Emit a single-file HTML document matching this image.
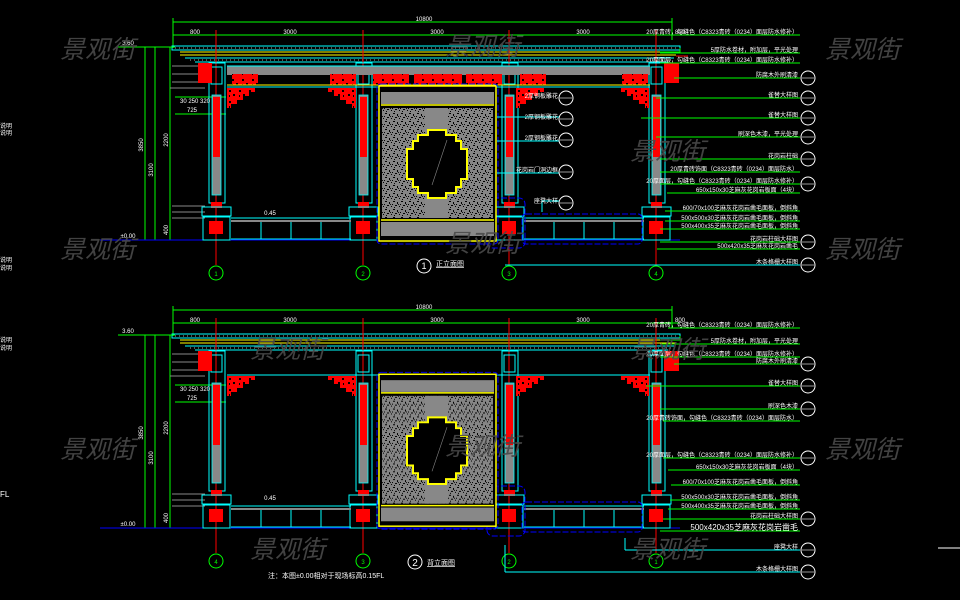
<!DOCTYPE html>
<html><head><meta charset="utf-8"><style>
html,body{margin:0;padding:0;background:#000;}
svg{display:block}
text{font-family:"Liberation Sans","Noto Sans CJK SC",sans-serif;}
.w{fill:#fff;font-size:6px}
.wm{fill:#4a4a4a;font-size:25px;font-style:italic;font-family:"Noto Sans CJK SC","WenQuanYi Zen Hei",sans-serif;opacity:.9}
</style></head><body>
<svg width="960" height="600" viewBox="0 0 960 600" xmlns="http://www.w3.org/2000/svg">
<defs>
<pattern id="tex" width="8" height="8" patternUnits="userSpaceOnUse">
<rect width="8" height="8" fill="#858585"/>
<rect x="1" y="1" width="2" height="1" fill="#000"/><rect x="5" y="2" width="1" height="2" fill="#000"/>
<rect x="3" y="5" width="2" height="1" fill="#000"/><rect x="7" y="6" width="1" height="1" fill="#000"/>
<rect x="2" y="7" width="1" height="1" fill="#000"/><rect x="6" y="4" width="1" height="1" fill="#111"/>
<rect x="0" y="4" width="1" height="1" fill="#000"/>
</pattern>
<pattern id="lat" width="10" height="11" patternUnits="userSpaceOnUse">
<rect width="10" height="11" fill="#f00"/>
<rect x="2" y="2" width="2" height="2" fill="#000"/><rect x="6" y="6" width="2" height="2" fill="#000"/>
<rect x="2" y="7" width="1" height="2" fill="#000"/>
</pattern>
<g id="col">
<line x1="0" y1="30" x2="0" y2="265" stroke="#f00" stroke-width="1"/>
<rect x="-7" y="63" width="16" height="140" fill="none" stroke="#0ff"/>
<rect x="-5" y="67" width="11" height="17" fill="none" stroke="#0ff"/>
<rect x="-4" y="95" width="9" height="100" fill="#888" stroke="#0ff" stroke-width=".8"/>
<rect x="-3" y="97" width="7" height="60" fill="#f00"/>
<rect x="-5" y="202" width="11" height="6" fill="#f00"/>
<rect x="-14" y="207" width="29" height="9" fill="none" stroke="#0ff"/>
<rect x="-13" y="217" width="27" height="23" fill="none" stroke="#0ff"/>
<rect x="-7" y="221" width="14" height="13" fill="#f00"/>
<circle cx="0" cy="273" r="7" fill="none" stroke="#0f0"/>
</g>
<g id="rail">
<line x1="0" y1="218" x2="120" y2="218" stroke="#0ff"/>
<rect x="0" y="220" width="120" height="2" fill="#888"/>
<line x1="0" y1="239" x2="120" y2="239" stroke="#0ff"/>
<line x1="30" y1="222" x2="30" y2="239" stroke="#0ff"/>
<line x1="60" y1="222" x2="60" y2="239" stroke="#0ff"/>
<line x1="90" y1="222" x2="90" y2="239" stroke="#0ff"/>
</g>
<g id="brL"><path d="M0 0h28v4h-6v4h-6v4h-6v4h-6v4h-4z" fill="url(#lat)"/></g>
<g id="door">
<rect x="379" y="86" width="117" height="155" fill="#000" stroke="#ff0" stroke-width="1.5"/>
<rect x="381" y="92" width="113" height="12" fill="#888"/>
<line x1="381" y1="105" x2="494" y2="105" stroke="#ff0" stroke-width="1.5"/>
<rect x="382" y="108" width="111" height="110" fill="url(#tex)"/>
<rect x="425" y="108" width="23" height="110" fill="#888"/>
<path d="M418 135h10v-5h18v5h10v6h5v8h6v30h-6v8h-5v6h-10v5h-18v-5h-10v-6h-5v-8h-6v-30h6v-8h5z" fill="#000" stroke="#ff0" stroke-width="2"/>
<line x1="432" y1="185" x2="447" y2="140" stroke="#888" stroke-width=".6"/>
<line x1="381" y1="220" x2="494" y2="220" stroke="#ff0" stroke-width="1.5"/>
<rect x="381" y="222" width="113" height="14" fill="#888"/>
<rect x="377" y="84" width="121" height="160" rx="4" fill="none" stroke="#00f" stroke-dasharray="6,2"/>
</g>
<g id="co"><circle r="7" fill="#000" stroke="#fff"/><line x1="-6" y1="0" x2="6" y2="0" stroke="#fff" stroke-width=".6"/></g>
<g id="elev">
<line x1="173" y1="22" x2="672" y2="22" stroke="#0f0"/>
<line x1="173" y1="35" x2="680" y2="35" stroke="#0f0"/>
<line x1="173" y1="18" x2="173" y2="48" stroke="#0f0"/>
<line x1="672" y1="18" x2="672" y2="40" stroke="#0f0"/>
<rect x="172" y="46" width="508" height="4" fill="none" stroke="#0ff"/>
<line x1="175" y1="48" x2="678" y2="48" stroke="#aaa" stroke-dasharray="1,3"/>
<line x1="180" y1="52" x2="676" y2="52" stroke="#ff0"/>
<line x1="180" y1="55" x2="676" y2="55" stroke="#ff0"/>
<line x1="185" y1="58" x2="674" y2="58" stroke="#0ff"/>
<line x1="190" y1="60" x2="672" y2="60" stroke="#aaa" stroke-dasharray="1,3"/>
<line x1="195" y1="62" x2="668" y2="62" stroke="#0ff"/>
<line x1="145" y1="47" x2="145" y2="240" stroke="#0f0"/>
<line x1="155" y1="47" x2="155" y2="240" stroke="#0f0"/>
<line x1="170" y1="47" x2="170" y2="240" stroke="#0f0"/>
<line x1="118" y1="47" x2="175" y2="47" stroke="#0f0"/>
<line x1="118" y1="240" x2="680" y2="240" stroke="#0f0"/>
<line x1="100" y1="240" x2="680" y2="240" stroke="#00f"/>
<line x1="172" y1="66" x2="210" y2="66" stroke="#888"/>
<line x1="172" y1="74" x2="210" y2="74" stroke="#888"/>
<line x1="172" y1="82" x2="210" y2="82" stroke="#888"/>
<line x1="170" y1="88" x2="205" y2="88" stroke="#888"/>
<line x1="172" y1="206" x2="205" y2="206" stroke="#888"/>
<line x1="172" y1="212" x2="205" y2="212" stroke="#888"/>
<line x1="172" y1="218" x2="205" y2="218" stroke="#888"/>
<line x1="175" y1="97" x2="226" y2="97" stroke="#0f0"/>
<line x1="175" y1="114" x2="226" y2="114" stroke="#0f0"/>
<use href="#col" x="216"/><use href="#col" x="363"/><use href="#col" x="509"/><use href="#col" x="656"/>
<use href="#rail" x="231"/><use href="#rail" x="524"/>
<line x1="227" y1="87" x2="650" y2="87" stroke="#0ff"/>
<rect x="198" y="63" width="14" height="20" fill="#f00"/>
<rect x="664" y="63" width="15" height="20" fill="#f00"/>
<use href="#brL" x="227" y="88"/>
<use href="#brL" transform="translate(356,88) scale(-1,1)"/>
<use href="#brL" x="516" y="88"/>
<use href="#brL" transform="translate(649,88) scale(-1,1)"/>
<rect x="487" y="198" width="38" height="50" rx="6" fill="none" stroke="#00f" stroke-dasharray="6,2"/>
<rect x="522" y="214" width="120" height="30" rx="4" fill="none" stroke="#00f" stroke-dasharray="6,2"/>
<path d="M660 52L680 52L680 48" fill="none" stroke="#0f0"/>
<line x1="676" y1="56" x2="688" y2="56" stroke="#f00"/>
</g>
</defs>

<use href="#elev"/>
<rect x="227" y="66" width="423" height="9" fill="#888"/>
<line x1="227" y1="66" x2="650" y2="66" stroke="#0ff"/>
<g fill="url(#lat)">
<rect x="232" y="74" width="26" height="11"/><rect x="330" y="74" width="26" height="11"/>
<rect x="373" y="74" width="36" height="11"/><rect x="414" y="74" width="48" height="11"/><rect x="466" y="74" width="36" height="11"/>
<rect x="520" y="74" width="26" height="11"/><rect x="622" y="74" width="26" height="11"/>
</g>
<line x1="227" y1="85" x2="650" y2="85" stroke="#ff0"/>
<use href="#door"/>
<use href="#elev" y="288"/>
<use href="#door" transform="translate(0,290) scale(1,0.98)"/>

<g stroke="#0f0" fill="none" stroke-width="1">
<path d="M668 35H800"/><path d="M660 53H800"/><path d="M660 63H800"/>
<path d="M674 78H800"/><path d="M656 98H800"/><path d="M641 118H800"/>
<path d="M656 137H800"/><path d="M660 159H800"/><path d="M660 172H800"/>
<path d="M660 184H800"/><path d="M667 193H800"/><path d="M665 211H800"/>
<path d="M665 221H800"/><path d="M660 229H800"/><path d="M660 242H800"/><path d="M657 249H800"/>
</g>
<g stroke="#0ff" fill="none"><path d="M505 265H800"/><path d="M497 117H560"/><path d="M497 141H560"/><path d="M497 173H560"/><path d="M542 212V201H560"/></g>
<g class="w" text-anchor="end">
<text x="798" y="34">20厚青砖，勾缝色（C8323青砖（0234）面层防水修补）</text>
<text x="798" y="52">5厚防水卷材，附加层，平光处理</text>
<text x="798" y="62">20厚面层，勾缝色（C8323青砖（0234）面层防水修补）</text>
<text x="798" y="77">防腐木外刷清漆</text>
<text x="798" y="97">雀替大样图</text>
<text x="798" y="117">雀替大样图</text>
<text x="798" y="136">刷深色木漆，平光处理</text>
<text x="798" y="158">花岗岩柱础</text>
<text x="798" y="171">20厚青砖饰面（C8323青砖（0234）面层防水）</text>
<text x="798" y="183">20厚面层，勾缝色（C8323青砖（0234）面层防水修补）</text>
<text x="798" y="192">650x150x30芝麻灰花岗岩板面（4块）</text>
<text x="798" y="210">600/70x100芝麻灰花岗岩凿毛面板，倒斜角</text>
<text x="798" y="220">500x500x30芝麻灰花岗岩凿毛面板，倒斜角</text>
<text x="798" y="228">500x400x35芝麻灰花岗岩凿毛面板，倒斜角</text>
<text x="798" y="241">花岗岩柱础大样图</text>
<text x="798" y="248">500x420x35芝麻灰花岗岩凿毛</text>
<text x="798" y="264">木条格栅大样图</text>
<text x="558" y="119">2厚钢板雕花</text><text x="558" y="140">2厚钢板雕花</text><text x="558" y="98">2厚钢板雕花</text>
<text x="558" y="172">花岗岩门洞边框</text><text x="558" y="203">座凳大样</text>
</g>
<use href="#co" x="808" y="78"/><use href="#co" x="808" y="98"/><use href="#co" x="808" y="118"/>
<use href="#co" x="808" y="137"/><use href="#co" x="808" y="159"/><use href="#co" x="808" y="184"/>
<use href="#co" x="808" y="242"/><use href="#co" x="808" y="265"/>
<use href="#co" x="566" y="98"/><use href="#co" x="566" y="119"/><use href="#co" x="566" y="140"/><use href="#co" x="566" y="172"/><use href="#co" x="566" y="203"/>
<g fill="none" stroke="#fff"><circle cx="424" cy="266" r="7"/><circle cx="415" cy="562" r="7"/></g>

<g stroke="#0f0" fill="none">
<path d="M668 328H800"/><path d="M660 344H800"/><path d="M660 357H800"/><path d="M674 364H800"/>
<path d="M646 386H800"/><path d="M660 409H800"/><path d="M663 421H800"/><path d="M663 458H800"/>
<path d="M668 470H800"/><path d="M671 485H800"/><path d="M670 500H800"/><path d="M668 509H800"/>
<path d="M663 519H800"/><path d="M660 531H800"/>
</g>
<g stroke="#0ff" fill="none"><path d="M625 550H800"/><path d="M625 538V550"/><path d="M505 572H800"/><path d="M505 545V572"/></g>
<line x1="938" y1="548" x2="960" y2="548" stroke="#fff"/>
<g class="w" text-anchor="end">
<text x="798" y="327">20厚青砖，勾缝色（C8323青砖（0234）面层防水修补）</text>
<text x="798" y="343">5厚防水卷材，附加层，平光处理</text>
<text x="798" y="356">20厚面层，勾缝色（C8323青砖（0234）面层防水修补）</text>
<text x="798" y="363">防腐木外刷清漆</text>
<text x="798" y="385">雀替大样图</text>
<text x="798" y="408">刷深色木漆</text>
<text x="798" y="420">20厚青砖饰面，勾缝色（C8323青砖（0234）面层防水）</text>
<text x="798" y="457">20厚面层，勾缝色（C8323青砖（0234）面层防水修补）</text>
<text x="798" y="469">650x150x30芝麻灰花岗岩板面（4块）</text>
<text x="798" y="484">600/70x100芝麻灰花岗岩凿毛面板，倒斜角</text>
<text x="798" y="499">500x500x30芝麻灰花岗岩凿毛面板，倒斜角</text>
<text x="798" y="508">500x400x35芝麻灰花岗岩凿毛面板，倒斜角</text>
<text x="798" y="518">花岗岩柱础大样图</text>
<text x="798" y="530" style="font-size:8px">500x420x35芝麻灰花岗岩凿毛</text>
<text x="798" y="549">座凳大样</text>
<text x="798" y="571">木条格栅大样图</text>
</g>
<use href="#co" x="808" y="364"/><use href="#co" x="808" y="386"/><use href="#co" x="808" y="409"/>
<use href="#co" x="808" y="458"/><use href="#co" x="808" y="519"/><use href="#co" x="808" y="550"/><use href="#co" x="808" y="572"/>

<g class="w" text-anchor="middle">
<text x="424" y="21">10800</text><text x="195" y="34">800</text><text x="290" y="34">3000</text><text x="437" y="34">3000</text><text x="583" y="34">3000</text><text x="680" y="34">800</text>
<text x="424" y="309">10800</text><text x="195" y="322">800</text><text x="290" y="322">3000</text><text x="437" y="322">3000</text><text x="583" y="322">3000</text><text x="680" y="322">800</text>
<text x="128" y="45">3.60</text><text x="128" y="238">±0.00</text>
<text x="128" y="333">3.60</text><text x="128" y="526">±0.00</text>
<text x="270" y="215">0.45</text><text x="270" y="500">0.45</text>
<text x="195" y="103">30 250 320</text><text x="192" y="112">725</text>
<text x="195" y="391">30 250 320</text><text x="192" y="400">725</text>
<text x="216" y="276" style="fill:#0f0">1</text><text x="363" y="276" style="fill:#0f0">2</text><text x="509" y="276" style="fill:#0f0">3</text><text x="656" y="276" style="fill:#0f0">4</text>
<text x="216" y="564" style="fill:#0f0">4</text><text x="363" y="564" style="fill:#0f0">3</text><text x="509" y="564" style="fill:#0f0">2</text><text x="656" y="564" style="fill:#0f0">1</text>
<text x="424" y="269" style="font-size:9px">1</text><text x="415" y="566" style="font-size:10px">2</text>
</g>
<g class="w">
<text x="436" y="266" style="font-size:7px;text-decoration:underline">正立面图</text>
<text x="427" y="565" style="font-size:7px;text-decoration:underline">背立面图</text>
<text x="268" y="578" style="font-size:7px">注：本图±0.00相对于现场标高0.15FL</text>
<text x="0" y="497" style="font-size:8px">FL</text>
<text x="0" y="128">说明</text><text x="0" y="135">说明</text>
<text x="0" y="262">说明</text><text x="0" y="270">说明</text>
<text x="0" y="342">说明</text><text x="0" y="350">说明</text>
</g>
<g transform="rotate(-90)" class="w" text-anchor="middle">
<text x="-145" y="143">3850</text><text x="-170" y="153">3100</text><text x="-140" y="168">2200</text>
<text x="-433" y="143">3850</text><text x="-458" y="153">3100</text><text x="-428" y="168">2200</text>
<text x="-230" y="168">400</text><text x="-518" y="168">400</text>
</g>

<g class="wm">
<text x="60" y="58">景观街</text><text x="445" y="55">景观街</text><text x="825" y="58">景观街</text>
<text x="630" y="160">景观街</text>
<text x="60" y="258">景观街</text><text x="445" y="252">景观街</text><text x="825" y="258">景观街</text>
<text x="250" y="358">景观街</text><text x="630" y="358">景观街</text>
<text x="60" y="458">景观街</text><text x="445" y="455">景观街</text><text x="825" y="458">景观街</text>
<text x="250" y="558">景观街</text><text x="630" y="558">景观街</text>
</g>
</svg>
</body></html>
